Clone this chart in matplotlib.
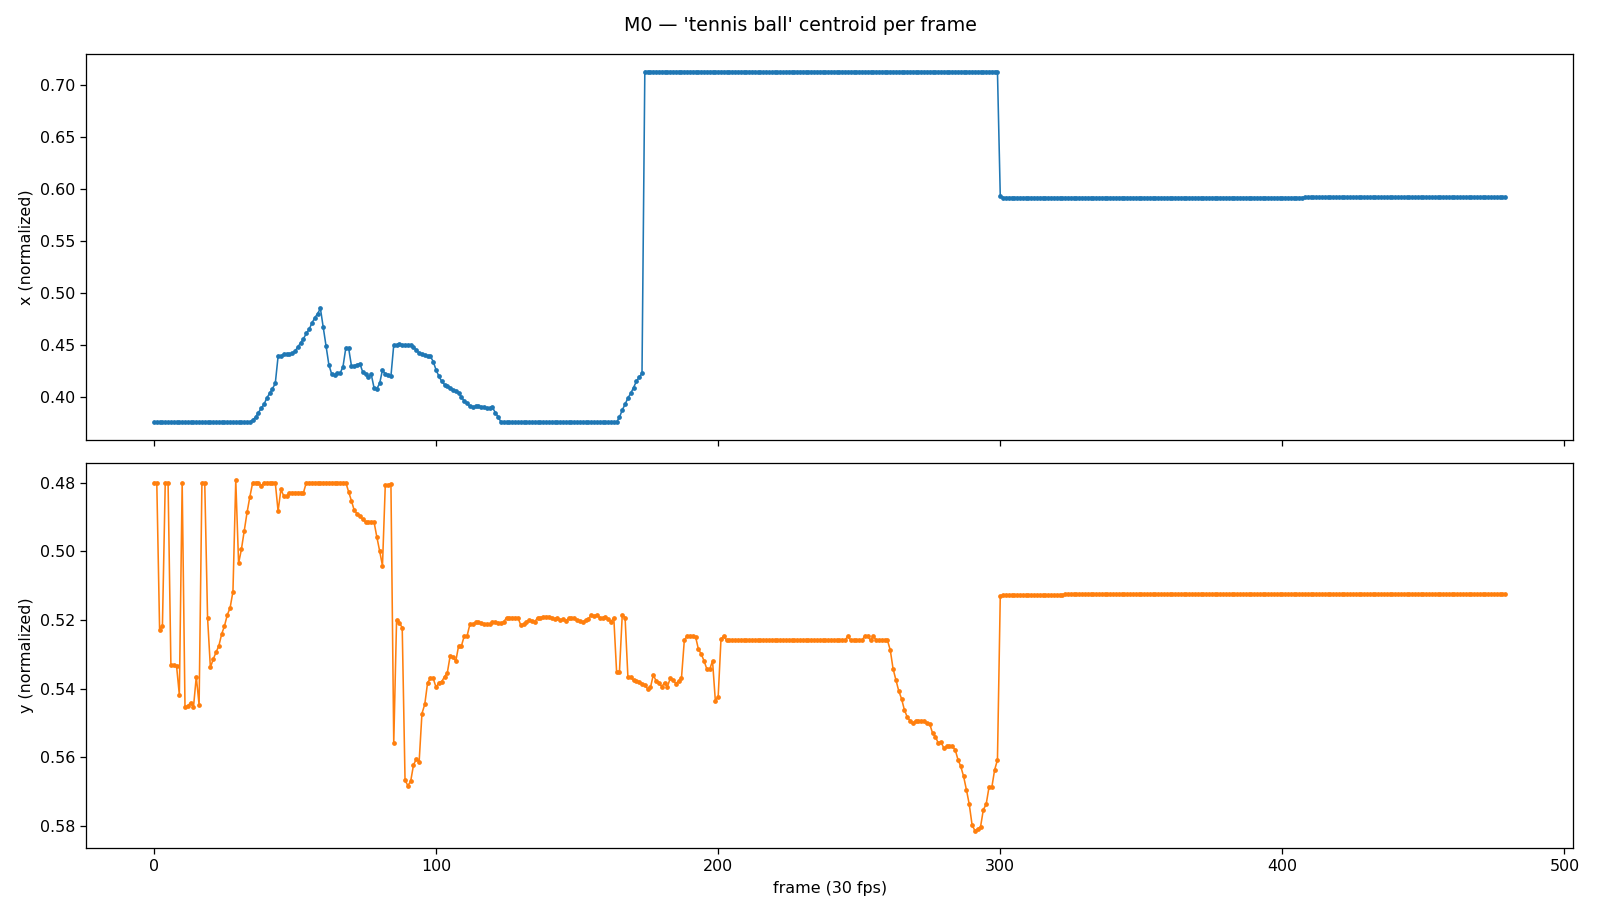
import matplotlib
matplotlib.use('Agg')
import matplotlib.pyplot as plt
import numpy as np

# x centroid (normalized)
x_start = [0.376] * 35                       # frames 0-34
x_wander = [0.378, 0.3805, 0.385, 0.389, 0.393, 0.399, 0.4035, 0.408, 0.413,
            0.439, 0.439, 0.441, 0.441, 0.441, 0.442, 0.444, 0.448, 0.452,
            0.456, 0.461, 0.465, 0.471, 0.476, 0.480, 0.485, 0.467, 0.449,
            0.431, 0.422, 0.421, 0.423, 0.423, 0.429, 0.447, 0.447, 0.430,
            0.430, 0.431, 0.432, 0.424, 0.422, 0.419, 0.422, 0.409, 0.408,
            0.413, 0.426, 0.422, 0.421, 0.420, 0.450, 0.450, 0.451, 0.450,
            0.450, 0.450, 0.450, 0.448, 0.445, 0.442, 0.441, 0.440, 0.439,
            0.439, 0.434, 0.426, 0.420, 0.415, 0.412, 0.411, 0.409, 0.407,
            0.406, 0.404, 0.400, 0.396, 0.394, 0.391, 0.390, 0.391, 0.391,
            0.390, 0.390, 0.389, 0.389, 0.390, 0.385, 0.381]   # frames 35-122
x_rest = [0.376] * 42                        # frames 123-164
x_rise = [0.3805, 0.3875, 0.393, 0.399, 0.4035, 0.409, 0.415, 0.419, 0.4227]
x_high = ([0.7125] * 40 + [0.7122, 0.7125, 0.7122, 0.7125, 0.7122, 0.7122,
          0.7125, 0.7122, 0.7125, 0.7122] + [0.7125] * 76)   # frames 174-299
x_low = [0.593] + [0.5915] * 107 + [0.592] * 72           # frames 300-479

# y centroid (normalized)
y_start = [0.480, 0.480, 0.5228, 0.5217, 0.480, 0.480, 0.533, 0.533, 0.5333,
           0.5418, 0.480, 0.5454, 0.545, 0.544, 0.5454, 0.5365, 0.5447,
           0.480, 0.480, 0.5193, 0.5338, 0.5314, 0.5294, 0.5275, 0.5241,
           0.5217, 0.5185, 0.5164, 0.5117, 0.4793, 0.5035, 0.4994, 0.4941,
           0.4887, 0.4841, 0.480, 0.480, 0.480, 0.481, 0.480, 0.480, 0.480,
           0.480, 0.480, 0.4883, 0.482, 0.4839, 0.4839, 0.4829, 0.4829,
           0.4829, 0.4829, 0.4829, 0.4829] + [0.480] * 15 + [
           0.4826, 0.4853, 0.4881, 0.489, 0.4897, 0.4907, 0.4914, 0.4914,
           0.4914, 0.4914, 0.4958, 0.4999, 0.5042, 0.4807, 0.4807, 0.4803]
y_middle = [0.5559, 0.520, 0.5209, 0.5222, 0.5666, 0.5682, 0.5669, 0.5622,
            0.5604, 0.5612, 0.5472, 0.5445, 0.5382, 0.537, 0.537, 0.5396,
            0.5382, 0.5379, 0.5365, 0.5353, 0.5304, 0.5309, 0.5319, 0.5275,
            0.5275, 0.5246, 0.5246, 0.5212, 0.5212, 0.5207, 0.5207, 0.521,
            0.5212, 0.5212, 0.5212, 0.5206, 0.5205, 0.521, 0.521, 0.5205,
            0.5193, 0.5193, 0.5193, 0.5193, 0.5193, 0.5214, 0.5212, 0.5205,
            0.520, 0.5202, 0.5205, 0.5193, 0.5193, 0.519, 0.519, 0.519,
            0.5193, 0.5198, 0.5193, 0.520, 0.5198, 0.5202, 0.5195, 0.5193,
            0.5195, 0.520, 0.5202, 0.5206, 0.520, 0.5197, 0.5185, 0.5188,
            0.5185, 0.5193, 0.5193, 0.519, 0.5198, 0.5205, 0.5193, 0.5352,
            0.5352, 0.5185, 0.5193, 0.5365, 0.5365, 0.5375, 0.5378, 0.5379,
            0.5385, 0.539, 0.540, 0.5396, 0.536, 0.5377, 0.5382, 0.5394,
            0.5382, 0.5394, 0.537, 0.5375, 0.5385, 0.5377, 0.5368, 0.5259,
            0.5246, 0.5246, 0.5246, 0.5249, 0.5285, 0.5299, 0.5319, 0.5343,
            0.5343, 0.5319, 0.5435, 0.5423, 0.5256, 0.5246]   # frames 85-202
y_plateau = ([0.5259] * 43 + [0.5246] + [0.5259] * 5 + [0.5246, 0.5246]
             + [0.5259, 0.5246] + [0.5259] * 5)              # frames 203-260
y_drop = [0.5287, 0.5342, 0.5374, 0.5406, 0.5429, 0.5461, 0.5482, 0.5493,
          0.5501, 0.5493, 0.5493, 0.5493, 0.5493, 0.5501, 0.5503, 0.5529,
          0.5539, 0.5558, 0.5555, 0.5573, 0.5568, 0.5568, 0.5568, 0.5577,
          0.5606, 0.5626, 0.5655, 0.5694, 0.5736, 0.5796, 0.5813, 0.5808,
          0.5802, 0.5752, 0.5736, 0.5687, 0.5687, 0.5636, 0.5607]  # 261-299
y_end = [0.513] + [0.5127] * 22 + [0.5124] * 102 + [0.5125] * 55  # 300-479

x_norm = np.array(x_start + x_wander + x_rest + x_rise + x_high + x_low)
y_norm = np.array(y_start + y_middle + y_plateau + y_drop + y_end)
frames = np.arange(len(x_norm))

dpi = 1600 / 14
fig, (ax1, ax2) = plt.subplots(2, 1, figsize=(14, 915 / dpi), dpi=dpi,
                               sharex=True)
fig.subplots_adjust(left=0.054, right=0.983, top=0.941, bottom=0.073,
                    hspace=0.06)

ax1.plot(frames, x_norm, color='tab:blue', marker='o', markersize=2,
         linewidth=1)
ax1.set_ylabel('x (normalized)')

ax2.plot(frames, y_norm, color='tab:orange', marker='o', markersize=2,
         linewidth=1)
ax2.set_ylabel('y (normalized)')
ax2.invert_yaxis()
ax2.set_xlabel('frame (30 fps)')

fig.suptitle("M0 \u2014 'tennis ball' centroid per frame", y=0.983)

plt.savefig('out.png', dpi=dpi)
